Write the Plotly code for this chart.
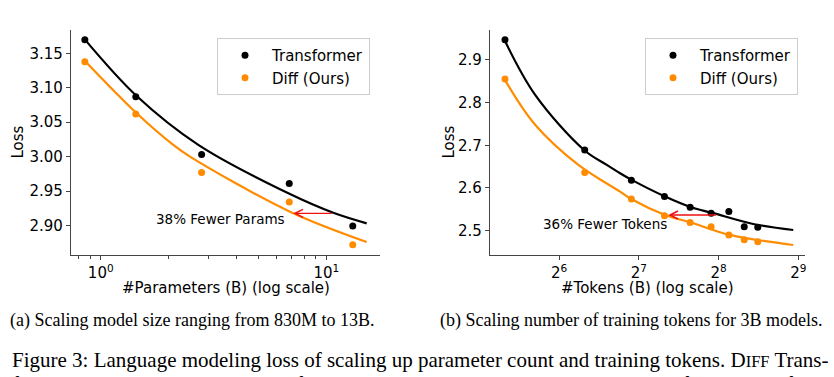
import math
import plotly.graph_objects as go

W, H = 834, 377

# ---------------- data: (a) model size ----------------
params_b = [0.85, 1.43, 2.8, 6.85, 13.1]
params_transformer = [3.170, 3.087, 3.003, 2.961, 2.899]
params_diff = [3.138, 3.062, 2.977, 2.934, 2.872]

fit_params_x_tr = [0.851, 1.443, 2.707, 6.90, 10.74, 15.1]
fit_params_y_tr = [3.170, 3.088, 3.017, 2.9455, 2.9183, 2.903]
fit_params_x_diff = [0.851, 1.443, 2.097, 2.486, 6.90, 15.1]
fit_params_y_diff = [3.139, 3.063, 3.017, 3.000, 2.920, 2.876]

params_arrow_from = (10.74, 2.9175)
params_arrow_to = (7.14, 2.9175)
params_text_pos = (6.69, 2.909)

# ---------------- data: (b) training tokens ----------------
tokens_b = [40, 80, 120, 160, 200, 240, 280, 320, 360]
tokens_transformer = [2.947, 2.689, 2.618, 2.580, 2.555, 2.541, 2.545, 2.509, 2.508]
tokens_diff = [2.855, 2.636, 2.574, 2.535, 2.519, 2.509, 2.490, 2.479, 2.474]

fit_tokens_x_tr = [39.8, 52.0, 79.5, 96.9, 108.8, 120.3, 160.8, 201.6, 244.6, 346, 490]
fit_tokens_y_tr = [2.947, 2.818, 2.689, 2.654, 2.6345, 2.619, 2.580, 2.555, 2.541, 2.5157, 2.5016]
fit_tokens_x_diff = [39.8, 52.0, 75.7, 108.8, 120.3, 160.8, 201.6, 282.9, 490]
fit_tokens_y_diff = [2.855, 2.748, 2.654, 2.5914, 2.5735, 2.5367, 2.519, 2.490, 2.4664]

tokens_arrow_from = (254, 2.5367)
tokens_arrow_to = (165.4, 2.5367)
tokens_text_pos = (166.5, 2.5157)

params_yticks = [2.90, 2.95, 3.00, 3.05, 3.10, 3.15]
tokens_yticks = [2.5, 2.6, 2.7, 2.8, 2.9]
tokens_xticks = [64, 128, 256, 512]
tokens_xticktext = ["2<sup>6</sup>", "2<sup>7</sup>", "2<sup>8</sup>", "2<sup>9</sup>"]
params_xticks = [1, 10]
params_xticktext = ["10<sup>0</sup>", "10<sup>1</sup>"]

BLACK = "#000000"
ORANGE = "#FF8C00"
SANS = "DejaVu Sans"
SERIF = "Liberation Serif"
AX = "#444444"

def px_x(p):
    return p / W

def px_y(p):
    return 1 - p / H

fig = go.Figure()

# fitted curves (a)
fig.add_trace(go.Scatter(x=fit_params_x_tr, y=fit_params_y_tr, mode="lines",
                         line=dict(color=BLACK, width=2.2, shape="spline"),
                         showlegend=False, xaxis="x", yaxis="y"))
fig.add_trace(go.Scatter(x=fit_params_x_diff, y=fit_params_y_diff, mode="lines",
                         line=dict(color=ORANGE, width=2.2, shape="spline"),
                         showlegend=False, xaxis="x", yaxis="y"))
fig.add_trace(go.Scatter(x=params_b, y=params_transformer, mode="markers", name="Transformer",
                         marker=dict(color=BLACK, size=7), xaxis="x", yaxis="y", legend="legend"))
fig.add_trace(go.Scatter(x=params_b, y=params_diff, mode="markers", name="Diff (Ours)",
                         marker=dict(color=ORANGE, size=7), xaxis="x", yaxis="y", legend="legend"))

# fitted curves (b)
fig.add_trace(go.Scatter(x=fit_tokens_x_tr, y=fit_tokens_y_tr, mode="lines",
                         line=dict(color=BLACK, width=2.2, shape="spline"),
                         showlegend=False, xaxis="x2", yaxis="y2"))
fig.add_trace(go.Scatter(x=fit_tokens_x_diff, y=fit_tokens_y_diff, mode="lines",
                         line=dict(color=ORANGE, width=2.2, shape="spline"),
                         showlegend=False, xaxis="x2", yaxis="y2"))
fig.add_trace(go.Scatter(x=tokens_b, y=tokens_transformer, mode="markers", name="Transformer",
                         marker=dict(color=BLACK, size=7), xaxis="x2", yaxis="y2", legend="legend2"))
fig.add_trace(go.Scatter(x=tokens_b, y=tokens_diff, mode="markers", name="Diff (Ours)",
                         marker=dict(color=ORANGE, size=7), xaxis="x2", yaxis="y2", legend="legend2"))

axis_common = dict(showline=True, linecolor=AX, linewidth=1.3, mirror=False,
                   ticks="outside", ticklen=4, tickwidth=1.2, tickcolor=AX,
                   showgrid=False, zeroline=False,
                   tickfont=dict(family=SANS, size=15, color="black"))

legend_common = dict(xanchor="left", yanchor="top", bgcolor="white",
                     bordercolor="#cccccc", borderwidth=1, itemwidth=44,
                     font=dict(family=SANS, size=15, color="black"), tracegroupgap=0)

fig.update_layout(
    width=W, height=H,
    margin=dict(l=0, r=0, t=0, b=0),
    paper_bgcolor="white", plot_bgcolor="white",
    xaxis=dict(domain=[px_x(71), px_x(380)], type="log",
               range=[math.log10(0.738), math.log10(17.3)],
               tickvals=params_xticks, ticktext=params_xticktext,
               minor=dict(tickvals=[0.8, 0.9, 2, 3, 4, 5, 6, 7, 8, 9], ticks="outside",
                          ticklen=2.5, tickcolor=AX, tickwidth=1),
               anchor="y", **axis_common),
    yaxis=dict(domain=[px_y(255), px_y(30)], range=[2.857, 3.184],
               tickvals=params_yticks, ticktext=[f"{v:.2f}" for v in params_yticks],
               anchor="x", **axis_common),
    xaxis2=dict(domain=[px_x(490), px_x(805)], type="log",
                range=[5.134 * math.log10(2), 9.084 * math.log10(2)],
                tickvals=tokens_xticks, ticktext=tokens_xticktext,
                anchor="y2", **axis_common),
    yaxis2=dict(domain=[px_y(255), px_y(30)], range=[2.443, 2.970],
                tickvals=tokens_yticks, ticktext=[f"{v:.1f}" for v in tokens_yticks],
                anchor="x2", **axis_common),
    legend=dict(x=px_x(217), y=px_y(38), **legend_common),
    legend2=dict(x=px_x(645), y=px_y(38), **legend_common),
)

ann = []
# arrows
ann.append(dict(x=math.log10(params_arrow_to[0]), y=params_arrow_to[1],
                ax=math.log10(params_arrow_from[0]), ay=params_arrow_from[1],
                xref="x", yref="y", axref="x", ayref="y", text="", showarrow=True,
                arrowhead=5, arrowsize=1.2, arrowwidth=1.3, arrowcolor="#ee1111"))
ann.append(dict(x=math.log10(tokens_arrow_to[0]), y=tokens_arrow_to[1],
                ax=math.log10(tokens_arrow_from[0]), ay=tokens_arrow_from[1],
                xref="x2", yref="y2", axref="x2", ayref="y2", text="", showarrow=True,
                arrowhead=5, arrowsize=1.2, arrowwidth=1.3, arrowcolor="#ee1111"))
ann.append(dict(x=math.log10(params_text_pos[0]), y=params_text_pos[1], xref="x", yref="y",
                text="38% Fewer Params", showarrow=False, xanchor="right", yanchor="middle",
                font=dict(family=SANS, size=13.5, color="black")))
ann.append(dict(x=math.log10(tokens_text_pos[0]), y=tokens_text_pos[1], xref="x2", yref="y2",
                text="36% Fewer Tokens", showarrow=False, xanchor="right", yanchor="middle",
                font=dict(family=SANS, size=13.5, color="black")))
# axis titles
ann.append(dict(x=px_x(225.5), y=px_y(288), xref="paper", yref="paper", text="#Parameters (B) (log scale)",
                showarrow=False, xanchor="center", yanchor="middle",
                font=dict(family=SANS, size=15, color="black")))
ann.append(dict(x=px_x(647.5), y=px_y(288), xref="paper", yref="paper", text="#Tokens (B) (log scale)",
                showarrow=False, xanchor="center", yanchor="middle",
                font=dict(family=SANS, size=15, color="black")))
ann.append(dict(x=px_x(17.5), y=px_y(142), xref="paper", yref="paper", text="Loss", textangle=-90,
                showarrow=False, xanchor="center", yanchor="middle",
                font=dict(family=SANS, size=15, color="black")))
ann.append(dict(x=px_x(448.5), y=px_y(142), xref="paper", yref="paper", text="Loss", textangle=-90,
                showarrow=False, xanchor="center", yanchor="middle",
                font=dict(family=SANS, size=15, color="black")))
# captions
ann.append(dict(x=px_x(8), y=px_y(320), xref="paper", yref="paper",
                text="(a) Scaling model size ranging from 830M to 13B.",
                showarrow=False, xanchor="left", yanchor="middle",
                font=dict(family=SERIF, size=18, color="black")))
ann.append(dict(x=px_x(438), y=px_y(320), xref="paper", yref="paper",
                text="(b) Scaling number of training tokens for 3B models.",
                showarrow=False, xanchor="left", yanchor="middle",
                font=dict(family=SERIF, size=18, color="black")))
ann.append(dict(x=px_x(10), y=px_y(360), xref="paper", yref="paper",
                text="Figure 3: Language modeling loss of scaling up parameter count and training tokens. D<span style='font-size:16.5px'>IFF</span> Trans-",
                showarrow=False, xanchor="left", yanchor="middle",
                font=dict(family=SERIF, size=21, color="black")))
ann.append(dict(x=px_x(10), y=px_y(384), xref="paper", yref="paper",
                text="former requires only about 65% of model size or training tokens to match Transformer’s performance.",
                showarrow=False, xanchor="left", yanchor="middle",
                font=dict(family=SERIF, size=21, color="black")))

fig.update_layout(annotations=ann)

fig.write_html("out.html", config={"displayModeBar": False},
               post_script="document.body.style.margin='0';document.body.style.overflow='hidden';")
